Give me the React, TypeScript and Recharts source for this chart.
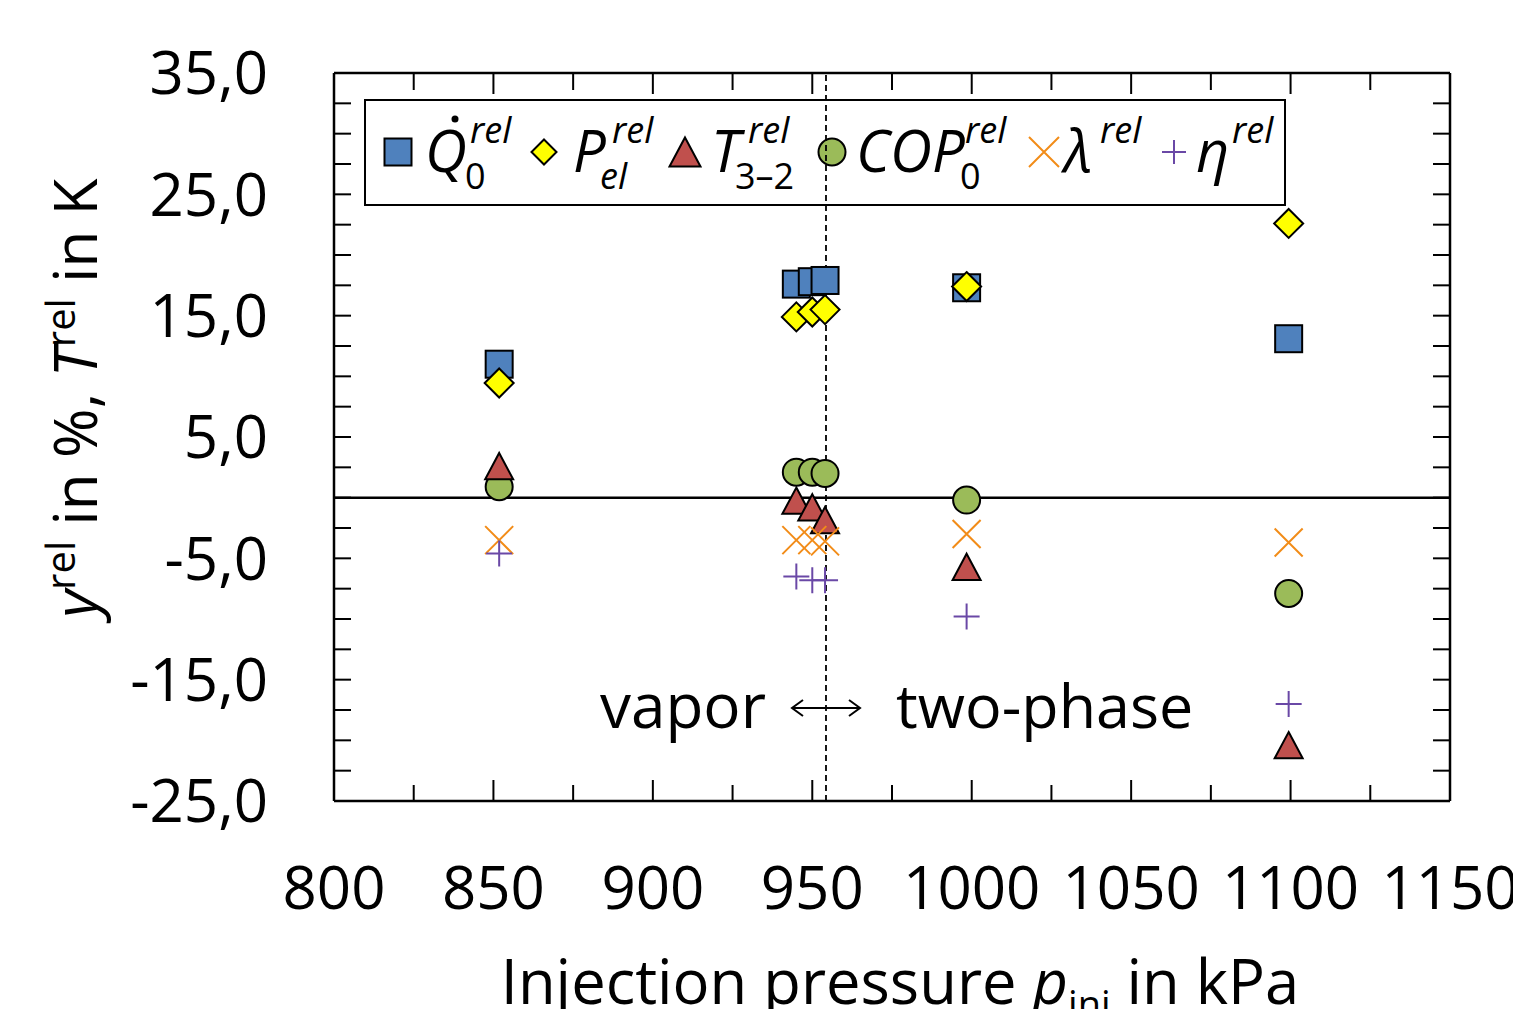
import { ScatterChart, Scatter, XAxis, YAxis, ReferenceLine, Customized } from 'recharts';

const FONT = "'Open Sans', 'Noto Sans', sans-serif";

// injection pressure in kPa
const pressure = [851.8, 945, 950, 954, 998.4, 1099.4];
const qRel = [11.0, 17.6, 17.8, 17.9, 17.3, 13.1];
const pElRel = [9.45, 14.9, 15.3, 15.5, 17.4, 22.6];
const t32Rel = [2.6, -0.25, -0.8, -1.85, -5.7, -20.4];
const copRel = [0.9, 2.1, 2.1, 2.0, -0.2, -7.9];
const lambdaRel = [-3.5, -3.5, -3.5, -3.6, -3.0, -3.7];
const etaRel = [-4.6, -6.5, -6.8, -6.8, -9.8, -17.0];

const switchPressure = 954.3;

const xMajorTicks = [800, 850, 900, 950, 1000, 1050, 1100, 1150];
const xMinorTicks = [825, 875, 925, 975, 1025, 1075, 1125];
const yTicks = [
  -25, -22.5, -20, -17.5, -15, -12.5, -10, -7.5, -5, -2.5, 0, 2.5, 5, 7.5, 10, 12.5, 15,
  17.5, 20, 22.5, 25, 27.5, 30, 32.5, 35,
];

const X_MIN = 800;
const X_MAX = 1150;
const Y_MIN = -25;
const Y_MAX = 35;

// plot frame in svg pixels (from the chart margins below)
const PLOT_LEFT = 326;
const PLOT_RIGHT = 1442;
const PLOT_TOP = 65;

const toPoints = (ys: number[]) => pressure.map((x, i) => ({ x, y: ys[i] }));

const SquareMark = ({ cx, cy, s = 27 }: any) => (
  <rect x={cx - s / 2} y={cy - s / 2} width={s} height={s} fill="#4f81bd" stroke="#000" strokeWidth={2} />
);
const DiamondMark = ({ cx, cy, s = 29 }: any) => (
  <path
    d={`M${cx},${cy - s / 2}L${cx + s / 2},${cy}L${cx},${cy + s / 2}L${cx - s / 2},${cy}Z`}
    fill="#ffff00"
    stroke="#000"
    strokeWidth={2}
  />
);
const TriangleMark = ({ cx, cy, s = 28 }: any) => (
  <path
    d={`M${cx},${cy - s * 0.47}L${cx + s / 2},${cy + s * 0.47}L${cx - s / 2},${cy + s * 0.47}Z`}
    fill="#c0504d"
    stroke="#000"
    strokeWidth={2}
  />
);
const CircleMark = ({ cx, cy, s = 27 }: any) => (
  <circle cx={cx} cy={cy} r={s / 2} fill="#9bbb59" stroke="#000" strokeWidth={2} />
);
const XMark = ({ cx, cy, s = 28 }: any) => (
  <path
    d={`M${cx - s / 2},${cy - s / 2}L${cx + s / 2},${cy + s / 2}M${cx - s / 2},${cy + s / 2}L${cx + s / 2},${cy - s / 2}`}
    stroke="#f28c18"
    strokeWidth={2}
    fill="none"
  />
);
const PlusMark = ({ cx, cy, s = 26 }: any) => (
  <path
    d={`M${cx - s / 2},${cy}L${cx + s / 2},${cy}M${cx},${cy - s / 2}L${cx},${cy + s / 2}`}
    stroke="#6a48a6"
    strokeWidth={2}
    fill="none"
  />
);

const NoLabel = () => null;

// top frame ticks, drawn last so nothing can cover them
const tickX = (v: number) => PLOT_LEFT + ((v - X_MIN) / (X_MAX - X_MIN)) * (PLOT_RIGHT - PLOT_LEFT);
const TopFrameTicks = () => (
  <g stroke="#000" strokeWidth={2}>
    {xMajorTicks.map((v) => (
      <line key={`M${v}`} x1={tickX(v)} x2={tickX(v)} y1={PLOT_TOP} y2={PLOT_TOP + 21} />
    ))}
    {xMinorTicks.map((v) => (
      <line key={`m${v}`} x1={tickX(v)} x2={tickX(v)} y1={PLOT_TOP} y2={PLOT_TOP + 17} />
    ))}
  </g>
);

const LegendBox = () => (
  <g fontFamily={FONT} fill="#000">
    <rect x={357} y={92} width={920} height={105} fill="#fff" stroke="#000" strokeWidth={2} />
    <SquareMark cx={390} cy={144} s={27} />
    <text x={417} y={164} fontSize={58} fontStyle="italic">Q</text>
    <circle cx={447} cy={111} r={3.5} fill="#000" />
    <text x={462} y={135} fontSize={36} fontStyle="italic">rel</text>
    <text x={457} y={181} fontSize={36}>0</text>

    <DiamondMark cx={536} cy={144} s={25} />
    <text x={565} y={164} fontSize={58} fontStyle="italic">P</text>
    <text x={604} y={135} fontSize={36} fontStyle="italic">rel</text>
    <text x={592} y={181} fontSize={36} fontStyle="italic">el</text>

    <TriangleMark cx={677} cy={144} s={31} />
    <text x={703} y={164} fontSize={58} fontStyle="italic">T</text>
    <text x={740} y={135} fontSize={36} fontStyle="italic">rel</text>
    <text x={727} y={181} fontSize={36}>3–2</text>

    <CircleMark cx={824} cy={144} s={27} />
    <text x={848} y={164} fontSize={58} fontStyle="italic">COP</text>
    <text x={957} y={135} fontSize={36} fontStyle="italic">rel</text>
    <text x={952} y={181} fontSize={36}>0</text>

    <XMark cx={1036} cy={144} s={30} />
    <text x={1056} y={164} fontSize={58} fontStyle="italic">λ</text>
    <text x={1092} y={135} fontSize={36} fontStyle="italic">rel</text>

    <PlusMark cx={1166} cy={144} s={24} />
    <text x={1188} y={164} fontSize={58} fontStyle="italic">η</text>
    <text x={1224} y={135} fontSize={36} fontStyle="italic">rel</text>
  </g>
);

const Annotations = () => (
  <g fontFamily={FONT} fill="#000">
    <text x={592} y={720} fontSize={62}>vapor</text>
    <path d="M784,700L852,700" stroke="#000" strokeWidth={2} fill="none" />
    <path d="M795,692L784,700L795,708M841,692L852,700L841,708" stroke="#000" strokeWidth={2} fill="none" />
    <text x={888} y={720} fontSize={61}>two-phase</text>

    <text x={892} y={996} fontSize={61.5} textAnchor="middle">
      Injection pressure <tspan fontStyle="italic">p</tspan>
      <tspan fontSize={38} dy={14}>inj</tspan>
      <tspan dy={-14}> in kPa</tspan>
    </text>

    <text x={89} y={390} fontSize={60} textAnchor="middle" transform="rotate(-90, 89, 390)">
      <tspan fontStyle="italic">y</tspan>
      <tspan fontSize={40} dy={-22}>rel</tspan>
      <tspan dy={22}> in %, </tspan>
      <tspan fontStyle="italic">T</tspan>
      <tspan fontSize={40} dy={-22}>rel</tspan>
      <tspan dy={22}> in K</tspan>
    </text>
  </g>
);

const fmtY = (v: number) => ((v - 35) % 10 === 0 ? v.toFixed(1).replace('.', ',') : '');

const tickStyle = { fontSize: 60, fill: '#000', fontFamily: FONT };
const axisLine = { stroke: '#000', strokeWidth: 2.5 };
const tickLine = { stroke: '#000', strokeWidth: 2 };

export default function App() {
  return (
    <ScatterChart width={1513} height={1001} margin={{ top: 63, right: 70, bottom: 128, left: 206 }}>
      <XAxis
        xAxisId="xb"
        type="number"
        dataKey="x"
        domain={[X_MIN, X_MAX]}
        allowDataOverflow
        ticks={xMajorTicks}
        interval={0}
        height={80}
        tickSize={-21}
        tickMargin={86}
        tick={tickStyle}
        axisLine={axisLine}
        tickLine={tickLine}
      />
      <XAxis
        xAxisId="xt"
        orientation="top"
        type="number"
        dataKey="x"
        domain={[X_MIN, X_MAX]}
        allowDataOverflow
        height={2}
        tick={<NoLabel />}
        tickLine={false}
        axisLine={axisLine}
      />
      <YAxis
        yAxisId="yl"
        type="number"
        dataKey="y"
        domain={[Y_MIN, Y_MAX]}
        allowDataOverflow
        ticks={yTicks}
        interval={0}
        width={120}
        tickSize={-17}
        tickMargin={83}
        tickFormatter={fmtY}
        tick={tickStyle}
        axisLine={axisLine}
        tickLine={tickLine}
      />
      <YAxis
        yAxisId="yr"
        orientation="right"
        type="number"
        dataKey="y"
        domain={[Y_MIN, Y_MAX]}
        allowDataOverflow
        ticks={yTicks}
        interval={0}
        width={1}
        tickSize={-17}
        tick={<NoLabel />}
        axisLine={axisLine}
        tickLine={tickLine}
      />

      {xMinorTicks.map((x) => (
        <ReferenceLine
          key={`bm${x}`}
          xAxisId="xb"
          yAxisId="yl"
          segment={[{ x, y: Y_MIN }, { x, y: Y_MIN + 1.32 }]}
          stroke="#000"
          strokeWidth={2}
        />
      ))}

      <ReferenceLine xAxisId="xb" yAxisId="yl" y={0} stroke="#000" strokeWidth={2.5} />
      <ReferenceLine
        xAxisId="xb"
        yAxisId="yl"
        x={switchPressure}
        stroke="#000"
        strokeWidth={1.8}
        strokeDasharray="6 4"
      />

      <Scatter xAxisId="xt" yAxisId="yr" data={toPoints(qRel)} shape={<NoLabel />} isAnimationActive={false} />

      <Scatter xAxisId="xb" yAxisId="yl" data={toPoints(qRel)} shape={<SquareMark />} isAnimationActive={false} />
      <Scatter xAxisId="xb" yAxisId="yl" data={toPoints(pElRel)} shape={<DiamondMark />} isAnimationActive={false} />
      <Scatter xAxisId="xb" yAxisId="yl" data={toPoints(copRel)} shape={<CircleMark />} isAnimationActive={false} />
      <Scatter xAxisId="xb" yAxisId="yl" data={toPoints(t32Rel)} shape={<TriangleMark />} isAnimationActive={false} />
      <Scatter xAxisId="xb" yAxisId="yl" data={toPoints(lambdaRel)} shape={<XMark />} isAnimationActive={false} />
      <Scatter xAxisId="xb" yAxisId="yl" data={toPoints(etaRel)} shape={<PlusMark />} isAnimationActive={false} />

      <Customized component={<LegendBox />} />
      <Customized component={<Annotations />} />
      <Customized component={<TopFrameTicks />} />
    </ScatterChart>
  );
}
